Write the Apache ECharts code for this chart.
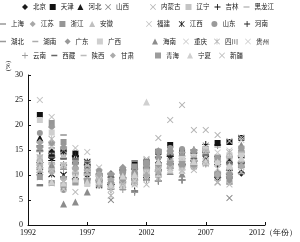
<!DOCTYPE html>
<html><head><meta charset="utf-8">
<script src="https://cdn.jsdelivr.net/npm/echarts@6/dist/echarts.min.js"></script>
<style>html,body{margin:0;padding:0;background:#fff}#c{width:300px;height:242px}</style>
</head><body><div id="c"></div>
<script>
// ---- data ----
const xCategories = ['1992','1993','1994','1995','1996','1997','1998','1999','2000','2001','2002','2003','2004','2005','2006','2007','2008','2009','2010','2011','2012'];
const years = ['1993','1994','1995','1996','1997','1998','1999','2000','2001','2002','2003','2004','2005','2006','2007','2008','2009','2010'];
const yTicks = [0, 5, 10, 15, 20, 25, 30];
const provinces = ['北京','天津','河北','山西','内蒙古','辽宁','吉林','黑龙江','上海','江苏','浙江','安徽','福建','江西','山东','河南','湖北','湖南','广东','广西','海南','重庆','四川','贵州','云南','西藏','陕西','甘肃','青海','宁夏','新疆'];

const beijing = [12.5, 13.5, 12, 9.2, 10, 9.8, 10.2, 11, 11.2, 11.4, 11, 14, 12, 12.8, 14.5, 9.5, 10.2, 10.4];
const tianjin = [22, 14.3, 14.8, 14.3, 12.2, 9.8, 10, 10.8, 12, 12.5, 14.6, 16, 14.7, 14.5, 15.2, 16.4, 16.6, 17.4];
const hebei = [17.4, 14.9, 13.9, 13.5, 12.5, 10.7, 9.1, 10, 8.7, 9.6, 11.6, 12.9, 13.4, 13.4, 12.8, 10.1, 10, 12.2];
const shanxi = [10.4, 10.2, 11.6, 12.7, 11.2, 8.8, 5, 8, 9, 12.9, 13.9, 15.2, 12.6, 11.8, 15.9, 8.5, 5.4, 13.9];
const neimenggu = [11.2, 11.5, 10, 12.8, 10.4, 9.6, 7.8, 10.8, 10.7, 13.2, 17.4, 21, 24, 19, 19, 18, 16.8, 17.5];
const liaoning = [13.5, 11.2, 7.5, 8.6, 8.9, 8.3, 8.2, 8.9, 9, 10.2, 11.5, 12.8, 12.3, 14.2, 15, 13.4, 13.1, 14.2];
const jilin = [15.8, 12.9, 9.7, 13.7, 9.2, 9, 8.1, 9.2, 6.8, 9.5, 8.8, 12.2, 12.1, 15, 16.1, 16, 13.6, 13.8];
const heilongjiang = [7.8, 8.5, 9.5, 10.2, 10, 8.3, 7.5, 8.2, 9.3, 10.3, 10.2, 11.7, 12.1, 12.1, 12, 11.8, 11.4, 12.7];
const shanghai = [15, 14.3, 14.1, 13, 12.8, 10.3, 10.2, 11, 10.5, 11.3, 12.3, 14.2, 11.1, 12.7, 15.2, 9.7, 8.2, 10.3];
const jiangsu = [16.5, 16.5, 15.4, 12.2, 12, 11, 10.1, 10.6, 10.2, 11.7, 13.6, 14.8, 14.5, 14.9, 14.9, 12.7, 12.4, 12.7];
const zhejiang = [12.5, 20.4, 16.6, 12.7, 11.1, 10.1, 10, 11, 10.5, 12.6, 14.7, 14.5, 12.8, 13.9, 14.7, 10.1, 8.9, 11.9];
const anhui = [13, 16.5, 14, 13.5, 12.1, 8.4, 8.4, 8.3, 8.6, 9.6, 9.4, 13.3, 11.6, 12.9, 13.9, 12.7, 12.9, 14.6];
const fujian = [25, 21.6, 15, 15.4, 14.6, 11.5, 10, 9.5, 9, 10.2, 11.5, 12.1, 11.6, 13.4, 15.2, 13, 12.3, 13.9];
const jiangxi = [10.6, 10.2, 10, 13, 12.6, 8, 7.8, 8, 8.8, 10.5, 13, 13.2, 12.8, 12.3, 13.2, 13.2, 13.1, 14];
const shandong = [18.4, 16.3, 7, 12.6, 11.2, 10.8, 10, 10.3, 10, 11.7, 13.4, 15.4, 15.2, 14.7, 14.2, 12, 12.2, 12.3];
const henan = [14.8, 13.8, 14.8, 13.9, 10.4, 8.8, 8.1, 9.5, 9, 9.5, 10.7, 13.7, 9, 14.4, 14.6, 12.1, 10.9, 12.5];
const hubei = [14.7, 15.4, 18, 13.2, 12.7, 9.2, 7.8, 8.6, 8.9, 9.2, 9.7, 11.3, 12.1, 13.2, 14.6, 13.4, 13.5, 14.8];
const hunan = [12, 12.5, 11.5, 11.1, 10.8, 8.8, 8.3, 9, 9, 9, 9.6, 12, 11.6, 12.2, 15, 12.8, 13.6, 14.5];
const guangdong = [15.5, 19.6, 15.6, 11.5, 11, 10.2, 9.5, 11.5, 9.6, 12.4, 14.8, 14.8, 13.8, 14.6, 14.7, 10.4, 9.7, 12.4];
const guangxi = [21, 18.5, 12, 10.2, 8.2, 9.9, 7.8, 7.4, 8.3, 10.6, 10.2, 11.8, 13.2, 13.6, 15.1, 12.8, 13.9, 14.2];
const hainan = [12, 12, 4.2, 4.6, 6.6, 8.3, 8.6, 9, 8.9, 9.6, 10.6, 10.7, 10.2, 12.5, 14.5, 10.3, 11.7, 16];
const chongqing = [13, 15.5, 12, 11, 11.2, 8.4, 7.6, 8.5, 9, 10.3, 11.5, 12.2, 11.5, 12.2, 15.6, 14.5, 14.9, 17];
const sichuan = [13.5, 17.2, 11.9, 10.6, 10.6, 9, 5.9, 9, 9, 10.3, 11.3, 12.7, 12.6, 13.3, 14.5, 9.5, 14.5, 15.1];
const guizhou = [9.5, 8.3, 7.2, 8.9, 9, 8.5, 8.3, 8.7, 8.8, 9.1, 10.1, 11.4, 12.7, 11.6, 13.7, 11.3, 11.4, 12.8];
const yunnan = [10.5, 12.2, 11.1, 10.4, 9.3, 8, 7.1, 7.1, 6.5, 9, 8.8, 11.3, 9, 11.9, 12.2, 10.6, 12.1, 12.3];
const xizang = [8, 13.5, 13.2, 13.2, 11.5, 10.2, 9.6, 9.4, 12.8, 12.9, 12, 12.1, 12.1, 13.3, 14, 10.1, 12.4, 12.3];
const shaanxi = [12, 11.2, 9.6, 10.5, 10.1, 9.2, 9.2, 9.7, 9.8, 11.1, 11.8, 12.9, 12.6, 12.8, 15.1, 15.6, 13.6, 14.6];
const gansu = [11.5, 10.6, 9.2, 11.3, 9, 10.1, 9, 8.7, 9.8, 9.9, 10.7, 11.5, 11.8, 11.5, 12.3, 10.1, 10.3, 11.8];
const qinghai = [9.6, 8.4, 8, 8.5, 8.8, 8.3, 8.2, 9, 11.7, 12.4, 11.9, 12.3, 12.2, 12.2, 12.5, 13.5, 10.1, 15.3];
const ningxia = [11.4, 8.6, 8.4, 9.2, 8.6, 8.7, 8, 9.8, 10.1, 24.6, 12.7, 11, 10.9, 12.7, 12.7, 12.6, 11.9, 13.4];
const xinjiang = [11, 10.9, 8.8, 6.6, 11.9, 7.8, 7.1, 8.2, 8.1, 8.1, 11.2, 11.4, 10.9, 11, 12.2, 8.6, 8.1, 10.6];

const seriesValues = [beijing, tianjin, hebei, shanxi, neimenggu, liaoning, jilin, heilongjiang, shanghai, jiangsu, zhejiang, anhui, fujian, jiangxi, shandong, henan, hubei, hunan, guangdong, guangxi, hainan, chongqing, sichuan, guizhou, yunnan, xizang, shaanxi, gansu, qinghai, ningxia, xinjiang];

// ---- styles ----
const SYM = {
  dia: ['diamond', 7.5],
  sq: ['rect', 6],
  tri: ['triangle', 7],
  x: ['path://M0,1L1,0L5,4L9,0L10,1L6,5L10,9L9,10L5,6L1,10L0,9L4,5Z', 6.5],
  star: ['path://M0,1L1,0L5,4L9,0L10,1L6,5L10,9L9,10L5,6L1,10L0,9L4,5ZM4.4,0H5.6V10H4.4Z', 7],
  dot: ['circle', 6],
  plus: ['path://M4.3,0H5.7V4.3H10V5.7H5.7V10H4.3V5.7H0V4.3H4.3Z', 7],
  dash: ['path://M0,0H10V2.5H0Z', 6.5]
};
const styles = [
  ['dia','#1a1a1a'],['sq','#111'],['tri','#1a1a1a'],['x','#8a8a8a'],['x','#b5b5b5'],['sq','#c4c4c4'],['plus','#111'],['dash','#bdbdbd'],
  ['dash','#999'],['dia','#a8a8a8'],['sq','#969696'],['tri','#c0c0c0'],['x','#c4c4c4'],['star','#222'],['dot','#9a9a9a'],['plus','#222'],
  ['dash','#9a9a9a'],['dash','#acacac'],['dia','#999'],['sq','#cfcfcf'],['tri','#8c8c8c'],['x','#cdcdcd'],['star','#b8b8b8'],['x','#cfcfcf'],
  ['plus','#9a9a9a'],['dash','#666'],['dash','#bbb'],['dia','#ababab'],['sq','#9c9c9c'],['tri','#d0d0d0'],['x','#bcbcbc']
];

const series = provinces.map((name, i) => {
  const s = SYM[styles[i][0]];
  return {
    name, type: 'scatter',
    symbol: s[0], symbolSize: s[1], symbolKeepAspect: true,
    itemStyle: { color: styles[i][1], opacity: 1 },
    data: years.map((y, k) => [y, seriesValues[i][k]]),
    animation: false
  };
});

const legendFont = { fontSize: 6.5, lineHeight: 8, color: '#222', fontFamily: 'Noto Sans CJK SC', width: 13 };
function mk(names, left, top, gap) {
  return { data: names, left, top, itemGap: gap, itemWidth: 6, itemHeight: 6, padding: 0,
           textStyle: legendFont, selectedMode: false, orient: 'horizontal' };
}
const legends = [
  mk(provinces.slice(0, 4), 22, 3, 3.7),
  mk(provinces.slice(4, 8), 150, 3, 5),
  mk(provinces.slice(8, 12), 0, 20, 5.7),
  mk(provinces.slice(12, 16), 146, 20, 8.7),
  mk(provinces.slice(16, 20), 0, 37.5, 8.3),
  mk(provinces.slice(20, 24), 152, 37.5, 7),
  mk(provinces.slice(24, 28), 22, 51.5, 5.3),
  mk(provinces.slice(28, 31), 155, 51.5, 8)
];

const chart = echarts.init(document.getElementById('c'), null, { renderer: 'canvas' });
chart.setOption({
  animation: false,
  backgroundColor: '#fff',
  legend: legends,
  grid: { left: 28, right: 34, top: 75, bottom: 17, containLabel: false },
  xAxis: {
    type: 'category', data: xCategories, boundaryGap: false,
    axisLine: { lineStyle: { color: '#111', width: 1 } },
    axisTick: { inside: true, length: 3, interval: 4, lineStyle: { color: '#111' } },
    axisLabel: {
      interval: 4, margin: 4, color: '#111', fontSize: 8, fontFamily: 'Liberation Serif',
      formatter: v => v === '2012' ? '{e|2012（年份）}' : v,
      rich: { e: { padding: [0, 0, 0, 16], fontSize: 8, fontFamily: 'Liberation Serif', color: '#111' } }
    },
    splitLine: { show: false }
  },
  yAxis: {
    type: 'value', min: yTicks[0], max: yTicks[yTicks.length - 1], interval: 5,
    axisLine: { show: true, lineStyle: { color: '#111', width: 1 } },
    axisTick: { show: true, inside: true, length: 3, lineStyle: { color: '#111' } },
    axisLabel: { margin: 5, color: '#111', fontSize: 8, fontFamily: 'Liberation Serif' },
    splitLine: { show: false }
  },
  graphic: [{
    type: 'text', x: 8, y: 66, rotation: Math.PI / 2,
    style: { text: '(%)', font: '7px "Liberation Serif"', fill: '#222', align: 'center', verticalAlign: 'middle' }
  }],
  series
});
</script></body></html>
